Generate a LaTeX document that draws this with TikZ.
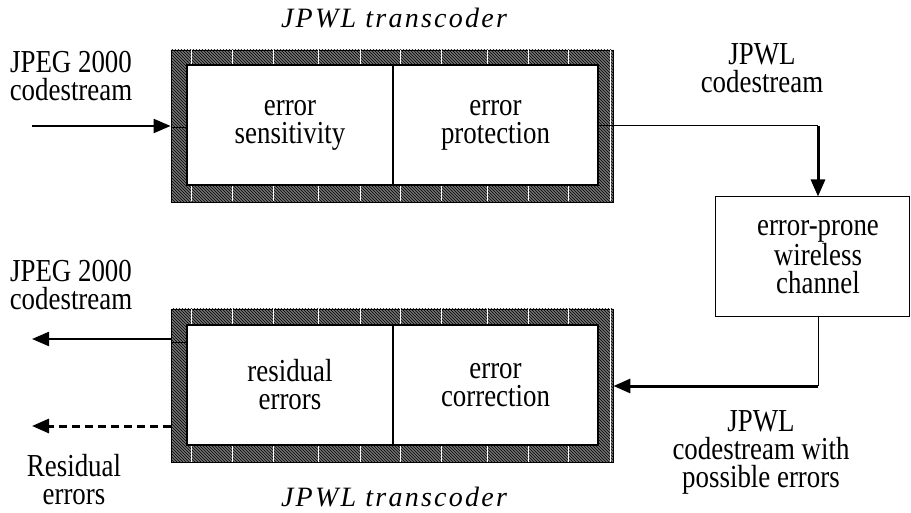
\documentclass[tikz,border=0pt]{standalone}
\usepackage{fontspec}
\setmainfont{Liberation Serif}
\newfontfamily\bodyfont[FakeStretch=0.84]{Liberation Serif}
\newfontfamily\titlefont[LetterSpace=8]{Liberation Serif}
\usetikzlibrary{arrows.meta,patterns}

\tikzset{
  x=1pt, y=-1pt,
  lbl/.style={align=center, font=\bodyfont\fontsize{32}{28}\selectfont, inner sep=0pt},
  ttl/.style={inner sep=0pt, font=\titlefont\fontsize{28}{28}\selectfont\itshape},
  hatchframe/.style={draw=black, line width=0.8pt,
    preaction={fill=black!55}, pattern=north west lines, pattern color=black,
    minimum width=442pt, inner sep=0pt},
  cell/.style={draw=black, line width=2pt, fill=white, inner sep=0pt,
    minimum height=120pt, lbl},
  chanbox/.style={draw=black, line width=1pt, fill=white, inner sep=0pt,
    minimum width=194pt, minimum height=120pt},
  tick/.style={white, line width=0.8pt},
  thinln/.style={draw=black, line width=1pt},
  tip/.style={-{Triangle[length=17pt,width=14pt]}},
  flow/.style={tip, line width=2.2pt},
  heavy/.style={tip, line width=3pt},
  dflow/.style={tip, line width=3pt, dash pattern=on 8pt off 5pt},
}

\begin{document}
\begin{tikzpicture}
\useasboundingbox (0,0) rectangle (911,513);

% ---------- encoder side ----------
\node[hatchframe, minimum height=152pt] (tf) at (392,126) {};
\foreach \xx in {191,232,273,318,360,400,441,487,528,568}{
  \draw[tick] (\xx,50.5) -- (\xx,65);
  \draw[tick] (\xx,186) -- (\xx,201.5);
}
\draw[tick] (610,50.5) -- (610,201.5);
\node[cell, minimum width=206pt] (sens) at (290,125.5) {error\\sensitivity};
\node[cell, minimum width=205pt] (prot) at (495.5,125.5) {error\\protection};

\node[ttl] (ttop) at (394,18) {JPWL transcoder};

% ---------- decoder side ----------
\node[hatchframe, minimum height=153pt] (bf) at (392,385.5) {};
\foreach \xx in {191,232,273,318,360,400,441,487,528,568}{
  \draw[tick] (\xx,309.5) -- (\xx,325);
  \draw[tick] (\xx,445) -- (\xx,461.5);
}
\draw[tick] (610,309.5) -- (610,461.5);
\node[cell, minimum width=206pt] (resid) at (290,385) {residual\\errors};
\node[cell, minimum width=205pt] (corr) at (495.5,385) {error\\correction};

\node[ttl] (tbot) at (394,497) {JPWL transcoder};

% ---------- channel ----------
\node[chanbox] (chan) at (812,257) {};
\node[lbl] (chantxt) at (818,257) {error-prone\\wireless\\channel};

% ---------- labels ----------
\node[lbl] (inlbl) at (71,76) {JPEG 2000\\codestream};
\node[lbl] (jpwl) at (762,68) {JPWL\\codestream};
\node[lbl] (outlbl) at (71,285) {JPEG 2000\\codestream};
\node[lbl] (errlbl) at (761,452) {JPWL\\codestream with\\possible errors};
\node[lbl] (reslbl) at (74,480) {Residual\\errors};

% ---------- connectors ----------
\coordinate (inS) at (32,126);
\draw[flow] (inS) -- (tf.west |- inS);
\draw[thinln] (tf.west |- 0,128) -- (sens.west |- 0,128);

\coordinate (k1) at (818,126);
\draw[thinln] (prot.east |- k1) -- (k1);
\draw[heavy] (k1) -- (k1 |- chan.north);

\coordinate (k2) at (818,386);
\draw[thinln] (k1 |- chan.south) -- (k2);
\draw[heavy] (k2) -- (bf.east |- k2);

\coordinate (outA) at (32,339);
\coordinate (outB) at (32,426);
\draw[flow] (bf.west |- outA) -- (outA);
\draw[thinln] (resid.west |- 0,342) -- (bf.west |- 0,342);
\draw[dflow] (bf.west |- outB) -- (outB);
\end{tikzpicture}
\end{document}
